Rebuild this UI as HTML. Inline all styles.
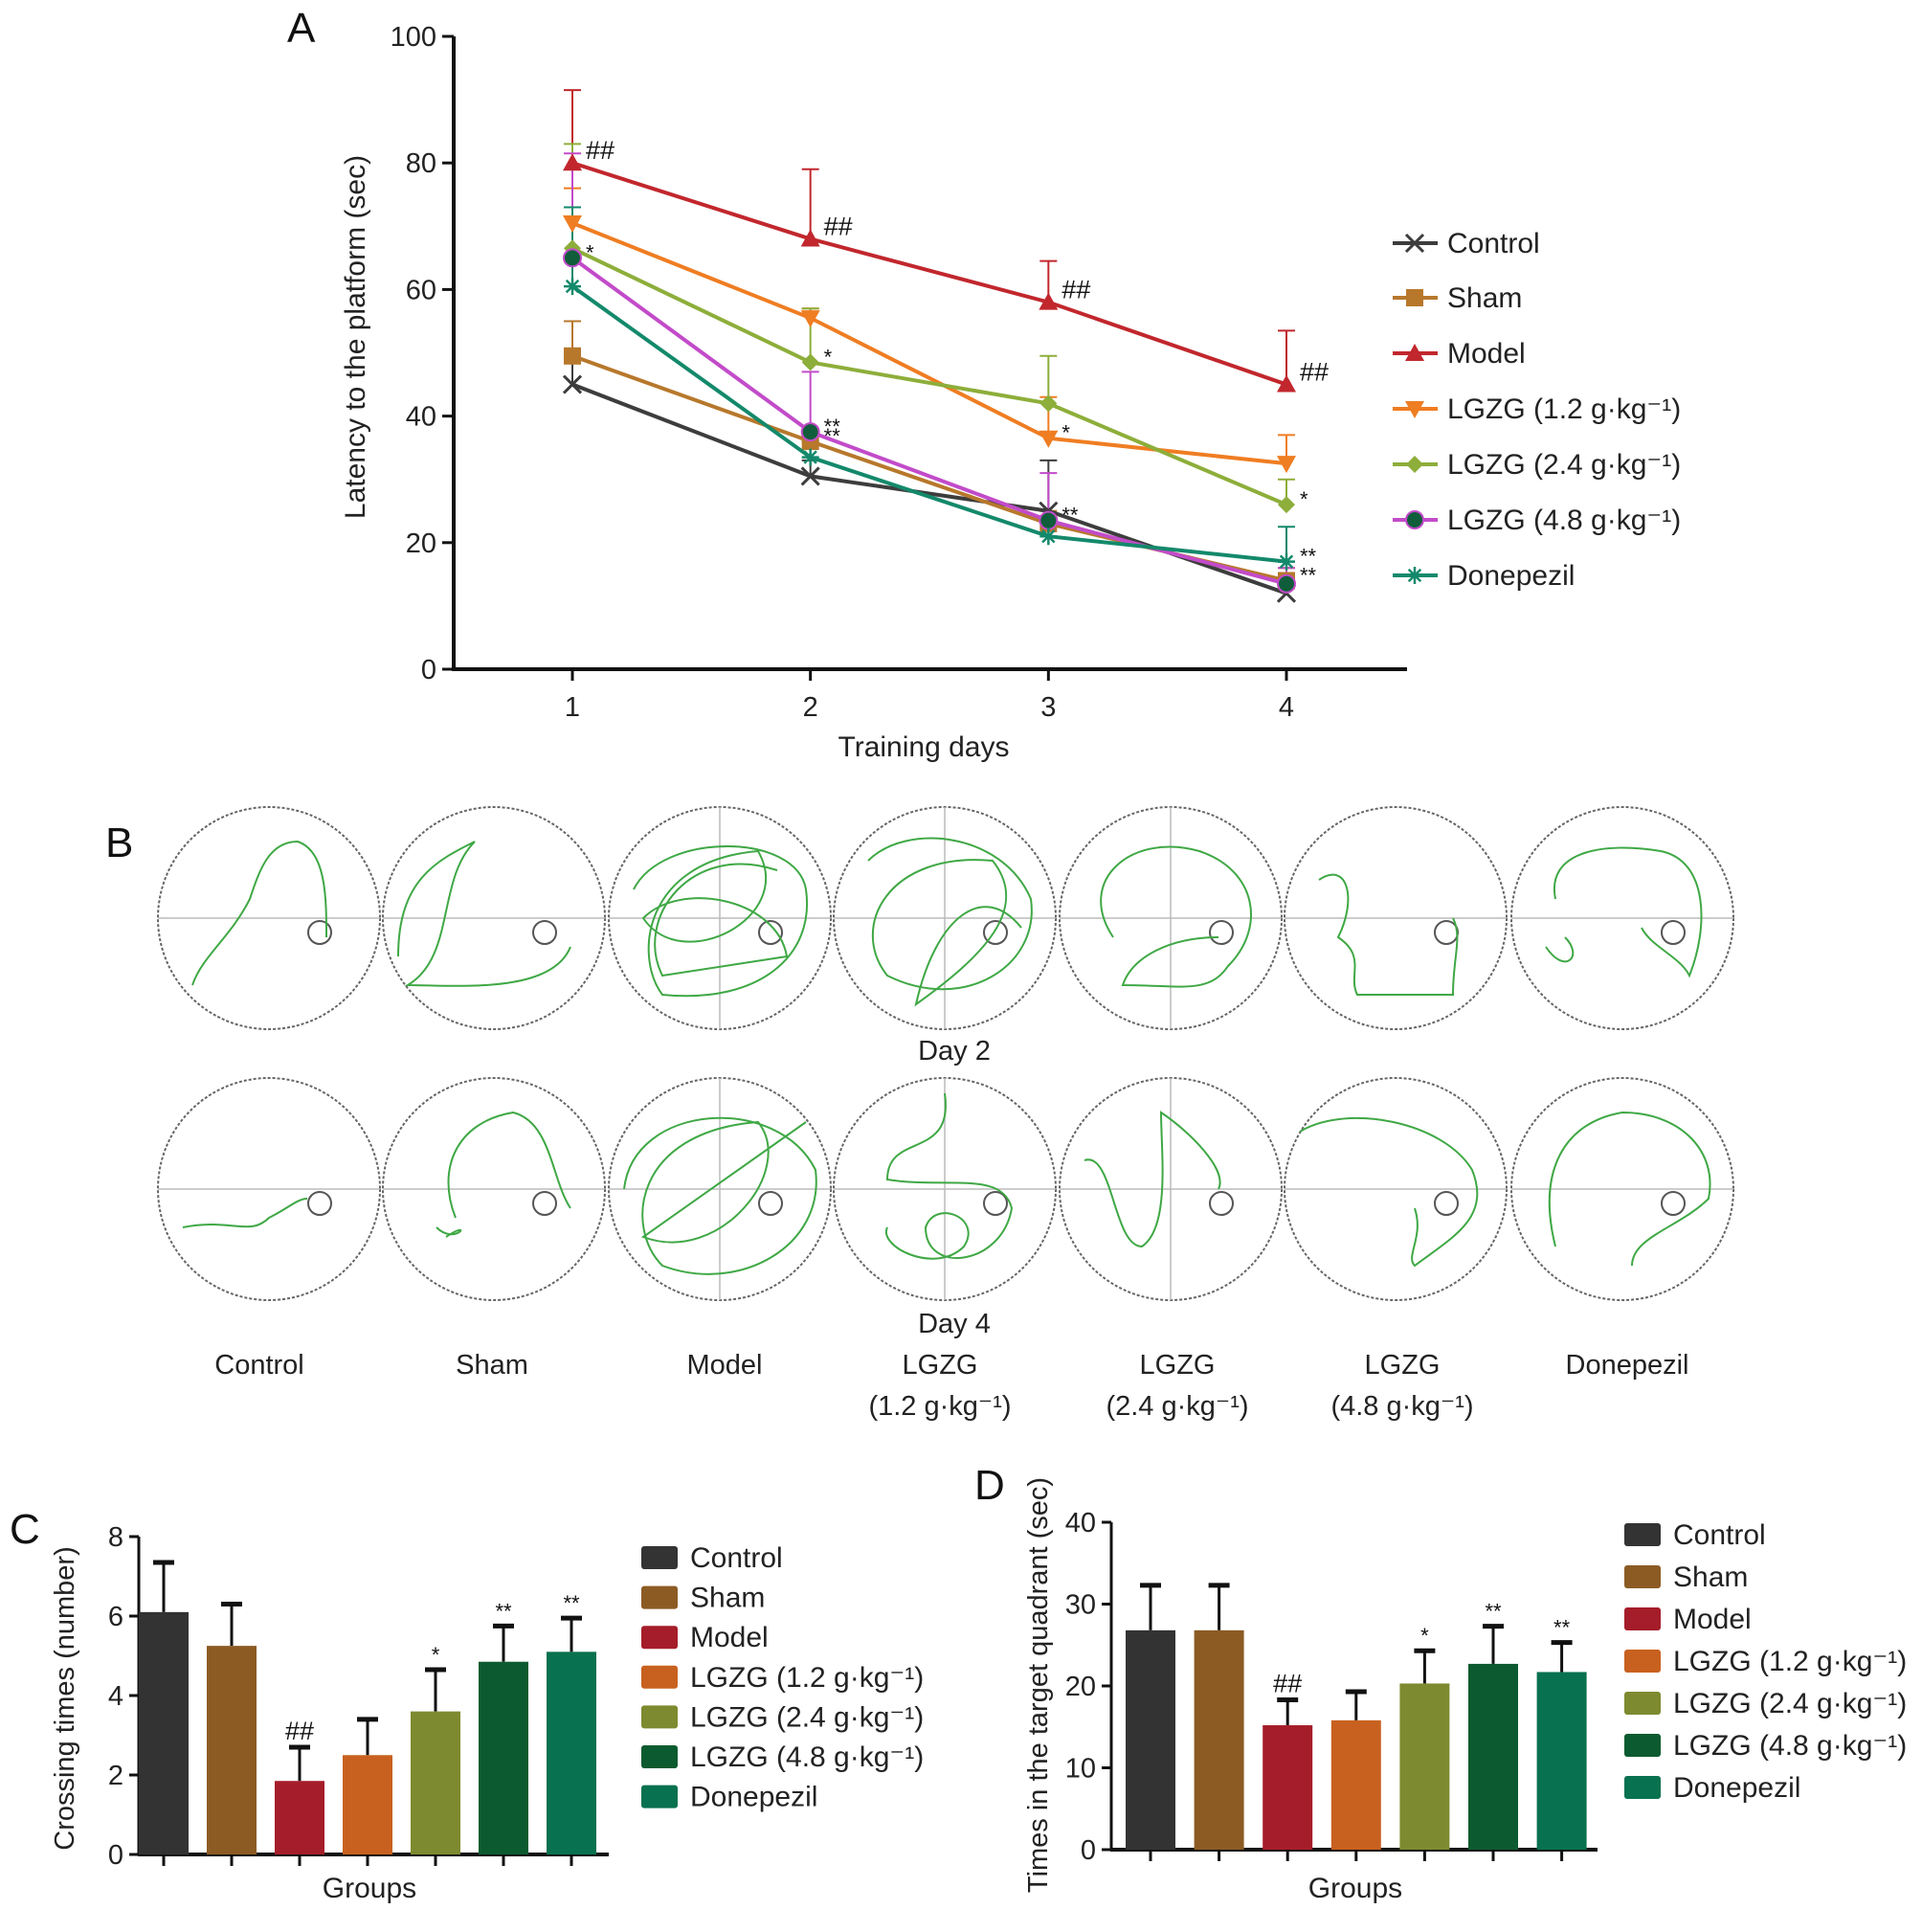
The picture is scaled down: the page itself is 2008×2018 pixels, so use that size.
<!DOCTYPE html>
<html><head><meta charset="utf-8">
<style>
html,body{margin:0;padding:0;background:#fff;}
svg{display:block;font-family:"Liberation Sans",Arial,sans-serif;}
</style></head>
<body>
<svg id="fig" width="2008" height="2018" viewBox="0 0 2008 2018" xmlns="http://www.w3.org/2000/svg">
<g font-size="44" fill="#111">
<text x="300" y="44">A</text>
<text x="110" y="895">B</text>
<text x="10" y="1612">C</text>
<text x="1018" y="1566">D</text>
</g>
<g id="pa"></g>
<g id="pb"></g>
<g id="pc"></g>
<g id="pd"></g>
</svg>
<script>
// ---- Panel A data ----
const days = [1, 2, 3, 4];
const dayLabels = ["1", "2", "3", "4"];
const aTicks = [0, 20, 40, 60, 80, 100];
const seriesNames = ["Control", "Sham", "Model", "LGZG (1.2 g\u00b7kg\u207b\u00b9)", "LGZG (2.4 g\u00b7kg\u207b\u00b9)", "LGZG (4.8 g\u00b7kg\u207b\u00b9)", "Donepezil"];
const controlVals = [45, 30.5, 25, 12];
const shamVals = [49.5, 36, 23, 14];
const modelVals = [80, 68, 58, 45];
const lgzg12Vals = [70.5, 55.5, 36.5, 32.5];
const lgzg24Vals = [66.5, 48.5, 42, 26];
const lgzg48Vals = [65, 37.5, 23.5, 13.5];
const donepezilVals = [60.5, 33.5, 21, 17];
const controlErr = [55, 33, 33, 14];
const shamErr = [55, 38, 25, 16];
const modelErr = [91.5, 79, 64.5, 53.5];
const lgzg12Err = [76, 57, 43, 37];
const lgzg24Err = [83, 57, 49.5, 30];
const lgzg48Err = [81.5, 47, 31, 16];
const donepezilErr = [73, 36, 23, 22.5];
const aSig = [["", "", "", ""], ["", "**", "", "**"], ["##", "##", "##", "##"], ["", "", "*", ""], ["", "*", "", "*"], ["*", "**", "**", ""], ["", "", "", "**"]];
// ---- Panel C / D data ----
const groups = ["Control", "Sham", "Model", "LGZG (1.2 g\u00b7kg\u207b\u00b9)", "LGZG (2.4 g\u00b7kg\u207b\u00b9)", "LGZG (4.8 g\u00b7kg\u207b\u00b9)", "Donepezil"];
const cVals = [6.1, 5.25, 1.85, 2.5, 3.6, 4.85, 5.1];
const cErr = [7.35, 6.3, 2.7, 3.4, 4.65, 5.75, 5.95];
const cSig = ["", "", "##", "", "*", "**", "**"];
const cTicks = [0, 2, 4, 6, 8];
const dVals = [26.8, 26.8, 15.2, 15.8, 20.3, 22.7, 21.7];
const dErr = [32.3, 32.3, 18.3, 19.3, 24.3, 27.3, 25.3];
const dSig = ["", "", "##", "", "*", "**", "**"];
const dTicks = [0, 10, 20, 30, 40];

const NS = "http://www.w3.org/2000/svg";
function mk(parent, tag, attrs, txt) {
  const e = document.createElementNS(NS, tag);
  for (const k in attrs) e.setAttribute(k, attrs[k]);
  if (txt !== undefined) e.textContent = txt;
  parent.appendChild(e);
  return e;
}

// ---------- Panel A ----------
(function () {
  const g = document.getElementById('pa');
  const x0 = 474, yBase = 699, yTop = 38, xEnd = 1470;
  const xs = d => 598 + (d - 1) * (1344 - 598) / 3;
  const ys = v => yBase - v * (yBase - yTop) / 100;
  const lineColors = ["#3d3d3d", "#b7782c", "#c1272d", "#ef7d22", "#8dae3a", "#c24bc9", "#13896b"];
  const markerFill = ["#3d3d3d", "#b7782c", "#c1272d", "#ef7d22", "#8dae3a", "#0f5d3b", "#13896b"];
  const vals = [controlVals, shamVals, modelVals, lgzg12Vals, lgzg24Vals, lgzg48Vals, donepezilVals];
  const errs = [controlErr, shamErr, modelErr, lgzg12Err, lgzg24Err, lgzg48Err, donepezilErr];
  let e;
  e = mk(g, 'line', {x1: x0, y1: yTop, x2: x0, y2: yBase + 1, stroke: '#111', 'stroke-width': 4});
   
  e = mk(g, 'line', {x1: x0 - 2, y1: yBase, x2: xEnd, y2: yBase, stroke: '#111', 'stroke-width': 4});
   
  aTicks.forEach(t => {
    mk(g, 'line', {x1: x0 - 12, y1: ys(t), x2: x0, y2: ys(t), stroke: '#111', 'stroke-width': 3});
    e = mk(g, 'text', {x: x0 - 18, y: ys(t) + 10, 'text-anchor': 'end', 'font-size': 29, fill: '#222'}, String(t));
     
  });
  days.forEach((d, i) => {
    mk(g, 'line', {x1: xs(d), y1: yBase, x2: xs(d), y2: yBase + 12, stroke: '#111', 'stroke-width': 3});
    e = mk(g, 'text', {x: xs(d), y: yBase + 49, 'text-anchor': 'middle', 'font-size': 29, fill: '#222'}, dayLabels[i]);
     
  });
  e = mk(g, 'text', {x: 965, y: 790, 'text-anchor': 'middle', 'font-size': 30, fill: '#222'}, 'Training days');
   
  e = mk(g, 'text', {x: 0, y: 0, 'text-anchor': 'middle', 'font-size': 30, fill: '#222', transform: 'translate(381,352) rotate(-90)'}, 'Latency to the platform (sec)');
   

  function marker(parent, k, cx, cy, s) {
    const c = markerFill[k];
    if (k === 0) { mk(parent, 'path', {d: `M${cx-s} ${cy-s}L${cx+s} ${cy+s}M${cx-s} ${cy+s}L${cx+s} ${cy-s}`, stroke: c, 'stroke-width': 3, fill: 'none'}); }
    else if (k === 1) mk(parent, 'rect', {x: cx - s, y: cy - s, width: 2 * s, height: 2 * s, fill: c});
    else if (k === 2) mk(parent, 'path', {d: `M${cx} ${cy-s-1}L${cx+s+1} ${cy+s-1}L${cx-s-1} ${cy+s-1}Z`, fill: c});
    else if (k === 3) mk(parent, 'path', {d: `M${cx-s-1} ${cy-s+1}L${cx+s+1} ${cy-s+1}L${cx} ${cy+s+1}Z`, fill: c});
    else if (k === 4) mk(parent, 'path', {d: `M${cx} ${cy-s}L${cx+s} ${cy}L${cx} ${cy+s}L${cx-s} ${cy}Z`, fill: c});
    else if (k === 5) mk(parent, 'circle', {cx: cx, cy: cy, r: s, fill: c, stroke: lineColors[5], 'stroke-width': 2});
    else { mk(parent, 'path', {d: `M${cx-s} ${cy}L${cx+s} ${cy}M${cx} ${cy-s}L${cx} ${cy+s}M${cx-s*0.7} ${cy-s*0.7}L${cx+s*0.7} ${cy+s*0.7}M${cx-s*0.7} ${cy+s*0.7}L${cx+s*0.7} ${cy-s*0.7}`, stroke: c, 'stroke-width': 2.5}); }
  }
  // error bars first
  vals.forEach((arr, k) => {
    const eg = mk(g, 'g', {});
     
    arr.forEach((v, i) => {
      const x = xs(days[i]);
      mk(eg, 'line', {x1: x, y1: ys(v), x2: x, y2: ys(errs[k][i]), stroke: lineColors[k], 'stroke-width': 2});
      mk(eg, 'line', {x1: x - 9, y1: ys(errs[k][i]), x2: x + 9, y2: ys(errs[k][i]), stroke: lineColors[k], 'stroke-width': 2});
    });
  });
  vals.forEach((arr, k) => {
    const sg = mk(g, 'g', {});
     
    const pts = arr.map((v, i) => xs(days[i]) + ',' + ys(v)).join(' ');
    mk(sg, 'polyline', {points: pts, fill: 'none', stroke: lineColors[k], 'stroke-width': 4});
    arr.forEach((v, i) => {
      marker(sg, k, xs(days[i]), ys(v), 9);
      const s = aSig[k][i];
      if (s) {
        const st = mk(sg, 'text', {x: xs(days[i]) + 14, y: ys(v) + (s[0] === '#' ? -4 : 2), 'font-size': s[0] === '#' ? 27 : 22, fill: '#111'}, s);
         
      }
    });
  });
  // legend
  const legY = [254, 311, 369, 427, 485, 543, 601];
  seriesNames.forEach((n, k) => {
    const lg = mk(g, 'g', {});
     
    mk(lg, 'line', {x1: 1455, y1: legY[k], x2: 1502, y2: legY[k], stroke: lineColors[k], 'stroke-width': 4});
    marker(lg, k, 1478, legY[k], 9);
    mk(lg, 'text', {x: 1512, y: legY[k] + 10, 'font-size': 30, fill: '#222'}, n);
  });
})();

// ---------- Panel B ----------
(function () {
  const g = document.getElementById('pb');
  const cxs = [281, 516, 752, 987, 1223, 1458, 1695];
  const rows = [959, 1242];
  const R = 116;
  const paths = [
    "M-80 70 C-70 40 -40 20 -20 -20 C-10 -50 0 -80 30 -80 C60 -70 60 -20 60 20",
    "M-100 40 C-100 -40 -60 -60 -20 -80 C-60 -40 -40 40 -90 70 C-40 70 60 80 80 30",
    "M-90 -30 C-60 -90 80 -90 90 -30 C100 40 40 90 -60 80 C-90 40 -80 -60 40 -70 C80 0 -40 60 -80 0 C-40 -40 60 -20 70 40 L-60 60 C-90 0 -30 -80 60 -50",
    "M-80 -60 C-40 -100 60 -90 90 -20 C100 50 20 100 -60 60 C-100 10 -60 -70 50 -60 C90 -10 40 40 -30 90 C-10 0 40 -40 80 10",
    "M-60 20 C-100 -40 -40 -90 30 -70 C90 -50 100 10 60 50 C40 80 10 70 -50 70 C-40 40 0 20 50 20",
    "M-80 -40 C-50 -60 -40 -20 -60 20 C-30 40 -50 60 -40 80 L60 80 C60 40 70 20 60 0",
    "M-70 -20 C-80 -70 -20 -80 40 -70 C90 -60 90 10 70 60 C60 40 30 30 20 10 M-80 30 C-60 60 -40 40 -60 20"
  ];
  const paths2 = [
    "M-90 40 C-40 30 -20 50 0 30 C20 20 30 10 40 10",
    "M-40 30 C-60 -20 -40 -70 20 -80 C60 -70 60 -10 80 20 M-60 40 C-40 60 -20 30 -50 50",
    "M-100 0 C-90 -90 60 -100 100 -20 C110 60 20 110 -60 80 C-100 40 -90 -60 40 -70 C80 -20 0 80 -80 50 L90 -70",
    "M0 -100 C10 -30 -60 -60 -60 -10 C0 0 60 -20 70 20 C60 80 -20 90 -20 40 C-10 10 40 30 20 60 C-10 90 -70 60 -60 40",
    "M-90 -30 C-60 -40 -60 60 -30 60 C0 40 -10 -40 -10 -80 C20 -60 60 -20 50 0",
    "M-100 -60 C-50 -90 50 -70 80 -20 C100 30 60 50 20 80 C10 70 30 50 20 20",
    "M-70 60 C-90 -20 -60 -70 0 -80 C60 -80 100 -40 90 10 C60 40 10 50 10 80"
  ];
  function circ(cx, cy, idx, row) {
    const cg = mk(g, 'g', {});
     
    mk(cg, 'circle', {cx: cx, cy: cy, r: R, fill: 'none', stroke: '#666', 'stroke-width': 2, 'stroke-dasharray': '3 2'});
    mk(cg, 'line', {x1: cx - R, y1: cy, x2: cx + R, y2: cy, stroke: '#bbb', 'stroke-width': 1.5});
    if (idx === 2 || idx === 3 || idx === 4) mk(cg, 'line', {x1: cx, y1: cy - R, x2: cx, y2: cy + R, stroke: '#bbb', 'stroke-width': 1.5});
    mk(cg, 'circle', {cx: cx + 53, cy: cy + 15, r: 12, fill: 'none', stroke: '#555', 'stroke-width': 2});
    mk(cg, 'path', {d: (row === 0 ? paths : paths2)[idx], transform: `translate(${cx},${cy})`, fill: 'none', stroke: '#3fa845', 'stroke-width': 2});
  }
  cxs.forEach((cx, i) => { circ(cx, rows[0], i, 0); circ(cx, rows[1], i, 1); });
  let e;
  e = mk(g, 'text', {x: 997, y: 1107, 'text-anchor': 'middle', 'font-size': 29, fill: '#222'}, 'Day 2');
   
  e = mk(g, 'text', {x: 997, y: 1392, 'text-anchor': 'middle', 'font-size': 29, fill: '#222'}, 'Day 4');
   
  const lab1 = ["Control", "Sham", "Model", "LGZG", "LGZG", "LGZG", "Donepezil"];
  const lab2 = ["", "", "", "(1.2 g\u00b7kg\u207b\u00b9)", "(2.4 g\u00b7kg\u207b\u00b9)", "(4.8 g\u00b7kg\u207b\u00b9)", ""];
  const lx = [271, 514, 757, 982, 1230, 1465, 1700];
  lab1.forEach((t, i) => {
    e = mk(g, 'text', {x: lx[i], y: 1435, 'text-anchor': 'middle', 'font-size': 29, fill: '#222'}, t);
     
    if (lab2[i]) { e = mk(g, 'text', {x: lx[i], y: 1478, 'text-anchor': 'middle', 'font-size': 29, fill: '#222'}, lab2[i]);
        }
  });
})();

// ---------- Bar charts ----------
const barColors = ["#333333", "#8c5b24", "#a51d2a", "#c8611f", "#7e8a2f", "#0c5b30", "#08714f"];
function barChart(id, vals, errs, sig, ticks, cfg) {
  const g = document.getElementById(id);
  const maxT = ticks[ticks.length - 1];
  const ys = v => cfg.y0 - v * (cfg.y0 - cfg.yTop) / maxT;
  const xs = i => cfg.xFirst + i * cfg.step;
  let e;
  e = mk(g, 'line', {x1: cfg.x0, y1: cfg.yTop, x2: cfg.x0, y2: cfg.y0 + 1, stroke: '#111', 'stroke-width': 3});
   
  e = mk(g, 'line', {x1: cfg.x0 - 1, y1: cfg.y0, x2: cfg.xEnd, y2: cfg.y0, stroke: '#111', 'stroke-width': 4});
   
  ticks.forEach(t => {
    mk(g, 'line', {x1: cfg.x0 - 10, y1: ys(t), x2: cfg.x0, y2: ys(t), stroke: '#111', 'stroke-width': 3});
    e = mk(g, 'text', {x: cfg.x0 - 16, y: ys(t) + 10, 'text-anchor': 'end', 'font-size': 29, fill: '#222'}, String(t));
     
  });
  vals.forEach((v, i) => {
    const x = xs(i);
    mk(g, 'line', {x1: x, y1: cfg.y0, x2: x, y2: cfg.y0 + 12, stroke: '#111', 'stroke-width': 3});
    mk(g, 'line', {x1: x, y1: ys(v), x2: x, y2: ys(errs[i]), stroke: '#111', 'stroke-width': 3});
    mk(g, 'line', {x1: x - 11, y1: ys(errs[i]), x2: x + 11, y2: ys(errs[i]), stroke: '#111', 'stroke-width': 5});
    e = mk(g, 'rect', {x: x - cfg.bw / 2, y: ys(v), width: cfg.bw, height: cfg.y0 - ys(v), fill: barColors[i]});
     
    if (sig[i]) {
      e = mk(g, 'text', {x: x, y: ys(errs[i]) - 8, 'text-anchor': 'middle', 'font-size': sig[i][0] === '#' ? 27 : 22, fill: '#111'}, sig[i]);
       
    }
  });
  e = mk(g, 'text', {x: cfg.xTitle, y: 1982, 'text-anchor': 'middle', 'font-size': 30, fill: '#222'}, 'Groups');
   
  e = mk(g, 'text', {x: 0, y: 0, 'text-anchor': 'middle', 'font-size': 29, fill: '#222', transform: `translate(${cfg.ytX},${cfg.ytY}) rotate(-90)`}, cfg.yTitle);
   
  groups.forEach((n, i) => {
    const lg = mk(g, 'g', {});
     
    const y = cfg.legY + i * cfg.legStep;
    mk(lg, 'rect', {x: cfg.legX, y: y - 12, width: 38, height: 24, rx: 3, fill: barColors[i]});
    mk(lg, 'text', {x: cfg.legX + 51, y: y + 10, 'font-size': 30, fill: '#222'}, n);
  });
}
barChart('pc', cVals, cErr, cSig, cTicks, {x0: 145, y0: 1937, yTop: 1605, xEnd: 636, xFirst: 171, step: 71, bw: 52,
  xTitle: 386, ytX: 77, ytY: 1774, yTitle: 'Crossing times (number)', legX: 670, legY: 1627, legStep: 41.6});
barChart('pd', dVals, dErr, dSig, dTicks, {x0: 1161, y0: 1932, yTop: 1590, xEnd: 1669, xFirst: 1202, step: 71.6, bw: 52,
  xTitle: 1416, ytX: 1094, ytY: 1760, yTitle: 'Times in the target quadrant (sec)', legX: 1697, legY: 1603, legStep: 44});
</script>
</body></html>
